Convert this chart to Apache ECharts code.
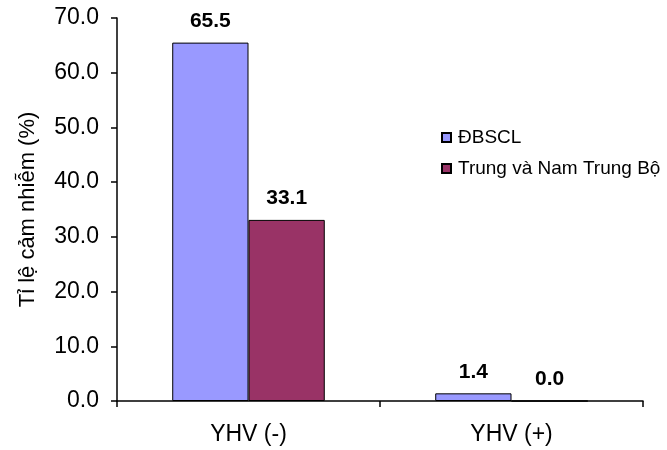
<!DOCTYPE html>
<html>
<head>
<meta charset="utf-8">
<script src="https://cdn.jsdelivr.net/npm/echarts@6/dist/echarts.min.js"></script>
<style>
  html, body { margin: 0; padding: 0; background: #fff; }
  #chart { width: 667px; height: 450px; }
</style>
</head>
<body>
<div id="chart"></div>
<script>
// Infection rate (%) by YHV status, two regions
const categories = ['YHV (-)', 'YHV (+)'];
const seriesNames = ['ĐBSCL', 'Trung và Nam Trung Bộ'];
const dbsclValues = [65.5, 1.4];
const trungValues = [33.1, 0.0];
const yTicks = [0, 10, 20, 30, 40, 50, 60, 70];

const FONT = "'Liberation Sans', Arial, sans-serif";
const chart = echarts.init(document.getElementById('chart'), null, { renderer: 'canvas' });

const barLabel = {
  show: true,
  position: 'top',
  distance: 11,
  color: '#000',
  fontFamily: FONT,
  fontWeight: 'bold',
  fontSize: 21,
  formatter: p => p.value.toFixed(1)
};

chart.setOption({
  animation: false,
  backgroundColor: '#fff',
  textStyle: { fontFamily: FONT },
  grid: { left: 117, right: 24, top: 18, bottom: 49 },
  legend: {
    orient: 'vertical',
    left: 436,
    top: 123,
    itemWidth: 9,
    itemHeight: 9,
    itemGap: 12,
    icon: 'rect',
    data: seriesNames,
    textStyle: { color: '#000', fontFamily: FONT, fontSize: 19, lineHeight: 19, padding: [0, 0, 0, 2] }
  },
  xAxis: {
    type: 'category',
    data: categories,
    axisLine: { lineStyle: { color: '#000', width: 1.5 } },
    axisTick: { show: true, length: 6, lineStyle: { color: '#000', width: 1.5 } },
    axisLabel: { color: '#000', fontFamily: FONT, fontSize: 23, margin: 22 }
  },
  yAxis: {
    type: 'value',
    min: yTicks[0],
    max: yTicks[yTicks.length - 1],
    interval: 10,
    name: 'Tỉ lệ cảm nhiễm (%)',
    nameLocation: 'middle',
    nameGap: 78,
    nameTextStyle: { color: '#000', fontFamily: FONT, fontSize: 22 },
    splitLine: { show: false },
    axisLine: { show: true, lineStyle: { color: '#000', width: 1.5 } },
    axisTick: { show: true, length: 6, lineStyle: { color: '#000', width: 1.5 } },
    axisLabel: {
      color: '#000', fontFamily: FONT, fontSize: 23, margin: 18,
      formatter: v => v.toFixed(1)
    }
  },
  series: [
    {
      name: seriesNames[0],
      type: 'bar',
      data: dbsclValues,
      barGap: '0%',
      barCategoryGap: '42%',
      itemStyle: { color: '#9999FF', borderColor: '#000', borderWidth: 1 },
      label: barLabel
    },
    {
      name: seriesNames[1],
      type: 'bar',
      data: trungValues,
      barGap: '0%',
      barCategoryGap: '42%',
      itemStyle: { color: '#993366', borderColor: '#000', borderWidth: 1 },
      label: barLabel
    }
  ]
});
</script>
</body>
</html>
